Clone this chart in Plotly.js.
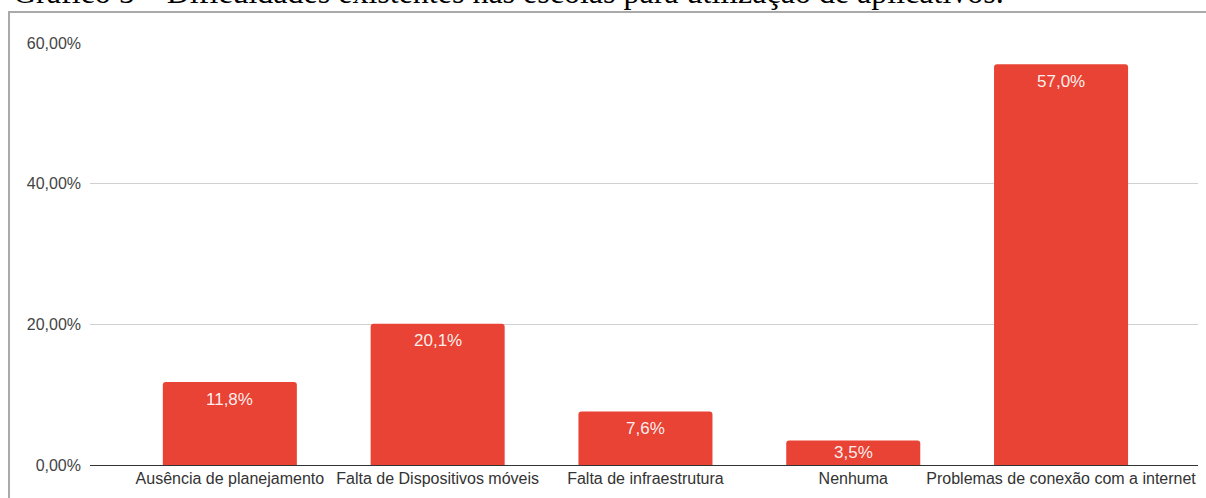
<!DOCTYPE html>
<html>
<head>
<meta charset="utf-8">
<script src="https://cdn.plot.ly/plotly-3.0.1.min.js"></script>
<style>
html,body{margin:0;padding:0;background:#fff;overflow:hidden;}
#chart{width:1206px;height:498px;}
</style>
</head>
<body>
<div id="chart"></div>
<script>
const categories = [
  "Ausência de planejamento",
  "Falta de Dispositivos móveis",
  "Falta de infraestrutura",
  "Nenhuma",
  "Problemas de conexão com a internet"
];
const values = [11.8, 20.1, 7.6, 3.5, 57.0];
const valueLabels = ["11,8%", "20,1%", "7,6%", "3,5%", "57,0%"];
const yTicks = [0, 20, 40, 60];
const yTickLabels = ["0,00%", "20,00%", "40,00%", "60,00%"];
const titleText = "Gráfico 5 – Dificuldades existentes nas escolas para utilização de aplicativos.";

const W = 1206, H = 498;
const mL = 90, mR = 8, mT = 43, mB = 33;
const pw = W - mL - mR, ph = H - mT - mB;
const yMax = 60.02;
const px2x = p => (p - mL) / pw;
const py2y = p => 1 - (p - mT) / ph;

const trace = {
  type: "bar",
  x: categories,
  y: values,
  marker: { color: "#e94335", cornerradius: 3 },
  width: 0.645,
  hoverinfo: "skip"
};

const labelAnnotations = categories.map((c, i) => {
  const barPx = values[i] * ph / yMax;
  return {
    x: c, y: values[i], xref: "x", yref: "y",
    text: valueLabels[i], showarrow: false,
    yanchor: "middle", yshift: -Math.min(17, barPx / 2),
    font: { family: "Liberation Sans, Arial, sans-serif", size: 17, color: "rgba(255,255,255,0.93)" }
  };
});

const layout = {
  width: W, height: H,
  margin: { l: mL, r: mR, t: mT, b: mB, pad: 0 },
  paper_bgcolor: "#ffffff",
  plot_bgcolor: "#ffffff",
  showlegend: false,
  font: { family: "Liberation Sans, Arial, sans-serif", size: 16, color: "#444" },
  xaxis: {
    type: "category",
    range: [-0.673, 4.659],
    showgrid: false,
    zeroline: false,
    showline: false,
    ticks: "",
    ticklabelstandoff: 2,
    tickfont: { size: 16, color: "#333" },
    fixedrange: true
  },
  yaxis: {
    range: [0, yMax],
    tickvals: yTicks,
    ticktext: yTickLabels,
    showgrid: true,
    gridcolor: "#d0d0d0",
    gridwidth: 1,
    zeroline: true,
    zerolinecolor: "#333",
    zerolinewidth: 1,
    showline: false,
    ticks: "",
    ticklabelstandoff: 8,
    tickfont: { size: 16, color: "#444" },
    fixedrange: true
  },
  shapes: [{
    type: "rect", xref: "paper", yref: "paper", layer: "below",
    x0: px2x(9), x1: px2x(1400), y0: py2y(12), y1: py2y(700),
    line: { color: "#aaaaaa", width: 2 }, fillcolor: "rgba(0,0,0,0)"
  }],
  annotations: [{
    xref: "paper", yref: "paper",
    x: px2x(11), y: py2y(-8),
    xanchor: "left", yanchor: "middle",
    text: titleText, showarrow: false,
    font: { family: "Liberation Serif, Times New Roman, serif", size: 32, color: "#000" }
  }].concat(labelAnnotations)
};

Plotly.newPlot("chart", [trace], layout, { displayModeBar: false, staticPlot: true });
</script>
</body>
</html>
